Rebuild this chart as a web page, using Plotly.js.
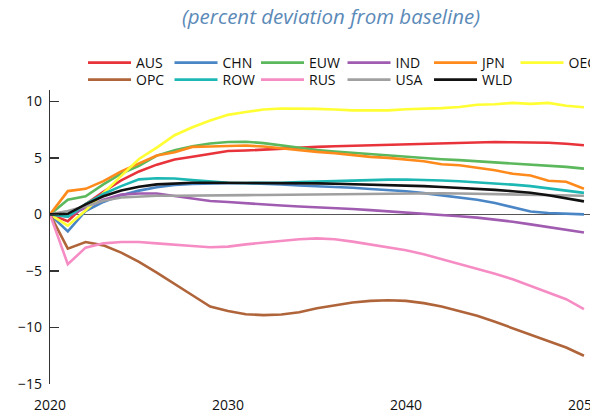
<!DOCTYPE html>
<html>
<head>
<meta charset="utf-8">
<script src="https://cdn.plot.ly/plotly-3.0.1.min.js"></script>
<style>html,body{margin:0;padding:0;background:#fff;}#chart{width:590px;height:416px;}</style>
</head>
<body>
<div id="chart"></div>
<script>
const years = [2020,2021,2022,2023,2024,2025,2026,2027,2028,2029,2030,2031,2032,2033,2034,2035,2036,2037,2038,2039,2040,2041,2042,2043,2044,2045,2046,2047,2048,2049,2050];

const AUS = [0,-0.6,0.9,2.0,3.0,3.8,4.4,4.85,5.1,5.38,5.6,5.65,5.74,5.85,5.92,5.97,6.02,6.06,6.12,6.18,6.24,6.28,6.32,6.35,6.38,6.4,6.38,6.36,6.33,6.25,6.12];
const CHN = [0,-1.5,0.3,1.1,1.7,2.1,2.4,2.6,2.7,2.75,2.75,2.75,2.72,2.65,2.55,2.5,2.42,2.35,2.25,2.15,2.05,1.88,1.7,1.5,1.3,1.0,0.6,0.25,0.12,0.05,0.0];
const EUW = [0,1.3,1.6,2.65,3.6,4.3,5.2,5.67,6.03,6.27,6.4,6.42,6.3,6.09,5.88,5.7,5.56,5.44,5.3,5.18,5.06,4.97,4.88,4.8,4.7,4.6,4.53,4.45,4.35,4.2,4.05];
const IND = [0,-0.2,0.6,1.3,1.75,1.85,1.85,1.62,1.38,1.18,1.09,0.97,0.88,0.78,0.7,0.64,0.58,0.48,0.38,0.28,0.18,0.08,-0.04,-0.16,-0.29,-0.45,-0.65,-0.88,-1.1,-1.35,-1.6];
const JPN = [0,2.06,2.26,2.94,3.8,4.5,5.2,5.5,5.97,6.0,6.06,6.09,6.0,5.83,5.65,5.53,5.41,5.24,5.09,5.0,4.83,4.7,4.44,4.35,4.12,3.91,3.59,3.44,2.97,2.88,2.27];
const OEC = [0,-1.0,0.35,1.9,3.4,4.9,5.9,7.0,7.7,8.3,8.8,9.06,9.27,9.36,9.36,9.33,9.27,9.2,9.2,9.2,9.3,9.33,9.4,9.5,9.7,9.74,9.86,9.77,9.86,9.6,9.47];
const OPC = [0,-3.03,-2.44,-2.74,-3.38,-4.2,-5.15,-6.18,-7.15,-8.15,-8.55,-8.83,-8.91,-8.85,-8.65,-8.3,-8.03,-7.8,-7.65,-7.6,-7.65,-7.85,-8.15,-8.53,-8.97,-9.5,-10.06,-10.6,-11.18,-11.77,-12.5];
const ROW = [0,-0.2,0.9,1.8,2.5,3.1,3.2,3.18,3.03,2.9,2.8,2.78,2.78,2.8,2.85,2.9,2.95,3.0,3.04,3.07,3.08,3.06,3.0,2.93,2.85,2.75,2.63,2.5,2.3,2.1,1.9];
const RUS = [0,-4.41,-2.94,-2.56,-2.44,-2.44,-2.56,-2.71,-2.8,-2.9,-2.85,-2.65,-2.5,-2.35,-2.2,-2.12,-2.2,-2.41,-2.65,-2.88,-3.18,-3.53,-3.97,-4.35,-4.79,-5.24,-5.74,-6.33,-6.91,-7.5,-8.38];
const USA = [0,0.3,0.73,1.2,1.5,1.6,1.65,1.65,1.65,1.66,1.68,1.7,1.72,1.74,1.76,1.78,1.8,1.82,1.84,1.86,1.88,1.88,1.87,1.85,1.83,1.8,1.77,1.74,1.71,1.68,1.65];
const WLD = [0,0.05,0.88,1.6,2.12,2.44,2.65,2.74,2.8,2.8,2.8,2.8,2.79,2.78,2.76,2.74,2.71,2.68,2.64,2.6,2.56,2.5,2.42,2.35,2.27,2.17,2.05,1.92,1.7,1.45,1.15];

const names = ["AUS","CHN","EUW","IND","JPN","OEC","OPC","ROW","RUS","USA","WLD"];
const series = [AUS,CHN,EUW,IND,JPN,OEC,OPC,ROW,RUS,USA,WLD];
const colors = ["#e8333a","#4a86c5","#5cb85c","#a05cb0","#ff8a1c","#ffff33","#b0643a","#1db8b3","#f68cc4","#a0a0a0","#111111"];

const traces = names.map((n,i)=>({
  x: years, y: series[i], name: n, type: "scatter", mode: "lines",
  legend: i < 6 ? "legend" : "legend2",
  line: {color: colors[i], width: 2.6}
}));

const legendBase = {orientation: "h", xref: "container", yref: "container", x: 0.1407, xanchor: "left", yanchor: "top",
  entrywidth: 28.5, entrywidthmode: "pixels", itemwidth: 43, font: {size: 14, color: "#111"}, tracegroupgap: 0, bgcolor: "rgba(0,0,0,0)"};

const layout = {
  width: 590, height: 416,
  margin: {l: 50, r: 0, t: 90, b: 32, autoexpand: false},
  paper_bgcolor: "#fff", plot_bgcolor: "#fff",
  font: {family: "Open Sans, sans-serif", size: 14, color: "#111"},
  title: {text: "<i>(percent deviation from baseline)</i>", x: 0.561, xanchor: "center", y: 0.96, yanchor: "middle",
          font: {family: "Open Sans, sans-serif", size: 20.5, color: "#5b8ab8"}},
  showlegend: true,
  legend: Object.assign({}, legendBase, {y: 0.887}),
  legend2: Object.assign({}, legendBase, {y: 0.846}),
  xaxis: {range: [2020, 2050.34], tickvals: [2020,2030,2040,2050], showline: false, showgrid: false, zeroline: false,
          ticks: "outside", ticklen: 8, tickcolor: "rgba(0,0,0,0)",
          tickfont: {size: 14}, ticklabeloverflow: "allow", automargin: false},
  yaxis: {range: [-15, 11], tickvals: [-15,-10,-5,0,5,10], showline: true, linecolor: "#333", linewidth: 1.3,
          ticks: "inside", ticklen: 9, tickcolor: "#333", tickwidth: 1.3, showgrid: false, automargin: false,
          ticklabelstandoff: 4,
          zeroline: true, zerolinecolor: "#555", zerolinewidth: 1.2, tickfont: {size: 14}}
};

Plotly.newPlot("chart", traces, layout, {displayModeBar: false, staticPlot: true});
</script>
</body>
</html>
